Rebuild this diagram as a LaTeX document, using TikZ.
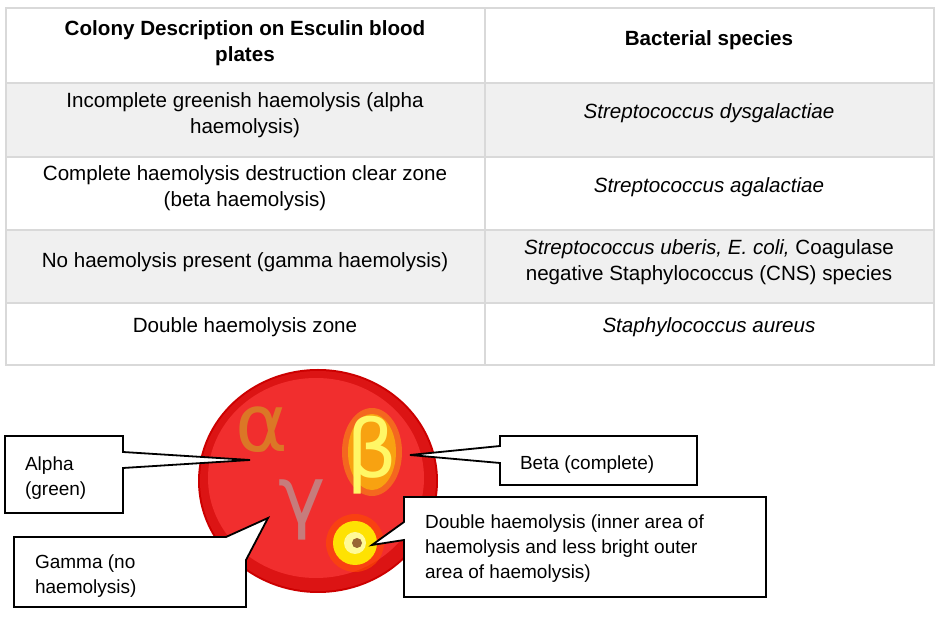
\documentclass[tikz,border=0pt]{standalone}
\usepackage{fontspec}
\setmainfont{Liberation Sans}
\newfontfamily\symf{DejaVu Sans}
\begin{document}
\begin{tikzpicture}[x=0.5pt,y=-0.5pt,
  cell/.style={font=\fontsize{10.3}{13}\selectfont,align=center},
  call/.style={draw=black,line width=0.9pt,fill=white},
  lab/.style={font=\fontsize{9.5}{12.5}\selectfont,align=left,anchor=north west}]
\useasboundingbox (0,0) rectangle (944,630);
\fill[white] (0,0) rectangle (944,630);
% table
\fill[gray!12] (6,83) rectangle (934,157);
\fill[gray!12] (6,230) rectangle (934,303);
\draw[gray!30,line width=0.6pt] (6,8) rectangle (934,365);
\foreach \y in {83,157,230,303} \draw[gray!30,line width=0.6pt] (6,\y) -- (934,\y);
\draw[gray!30,line width=0.6pt] (485,8) -- (485,365);
\node[cell,font=\fontsize{10.3}{13}\selectfont\bfseries] (h1) at (245,43) {Colony Description on Esculin blood\\plates};
\node[cell,font=\fontsize{10.3}{13}\selectfont\bfseries] (h2) at (709,40) {Bacterial species};
\node[cell] (a1) at (245,115) {Incomplete greenish haemolysis (alpha\\haemolysis)};
\node[cell] (a2) at (709,113) {\itshape Streptococcus dysgalactiae};
\node[cell] (b1) at (245,188) {Complete haemolysis destruction clear zone\\(beta haemolysis)};
\node[cell] (b2) at (709,187) {\itshape Streptococcus agalactiae};
\node[cell] (c1) at (245,262) {No haemolysis present (gamma haemolysis)};
\node[cell] (c2) at (709,262) {\textit{Streptococcus uberis, E. coli,} Coagulase\\negative Staphylococcus (CNS) species};
\node[cell] (d1) at (245,327) {Double haemolysis zone};
\node[cell] (d2) at (709,327) {\itshape Staphylococcus aureus};
% plate
\fill[red!80!black] (318,481) ellipse (120 and 112);
\fill[red!85!black!92!white] (318,481) ellipse (118 and 110);
\fill[red!75!white,opacity=0.6] (316,478) ellipse (108 and 100);
% colonies
\node[text=brown!60!orange,opacity=0.9,font=\symf\fontsize{40}{40}\selectfont] (alpha) at (262,430) {α};
\fill[yellow!70!orange,opacity=0.35] (372,452) ellipse (30 and 44);
\fill[yellow!80!orange,opacity=0.5] (372,452) ellipse (24 and 38);
\node[text=yellow!60!white,font=\symf\fontsize{40}{40}\selectfont] (beta) at (372,455) {β};
\node[text=red!25!gray!70!white,opacity=0.8,font=\symf\fontsize{40}{40}\selectfont] (gamma) at (302,510) {γ};
\fill[orange!60!red,opacity=0.6] (355,543) circle (29);
\fill[yellow!85!orange] (355,543) circle (22);
\fill[yellow!40!white] (355,543) circle (11);
\fill[brown!80!black] (357,543) circle (5);
\coordinate (dbl) at (372,545);
% callouts
\draw[call] (5,436) -- (123,436) -- (123,452) -- (250,460) -- (123,468) -- (123,513) -- (5,513) -- cycle;
\node[lab] (tA) at (18,450) {Alpha\\(green)};
\draw[call] (500,436) -- (697,436) -- (697,485) -- (500,485) -- (500,463) -- (410,455) -- (500,446) -- cycle;
\node[lab] (tB) at (513,449) {Beta (complete)};
\draw[call] (14,537) -- (226,537) -- (268,518) -- (246,560) -- (246,607) -- (14,607) -- cycle;
\node[lab] (tG) at (28,548) {Gamma (no\\haemolysis)};
\draw[call] (404,497) -- (766,497) -- (766,597) -- (404,597) -- (404,540) -- (dbl) -- (404,522) -- cycle;
\node[lab] (tD) at (418,508) {Double haemolysis (inner area of\\haemolysis and less bright outer\\area of haemolysis)};
\end{tikzpicture}
\end{document}
